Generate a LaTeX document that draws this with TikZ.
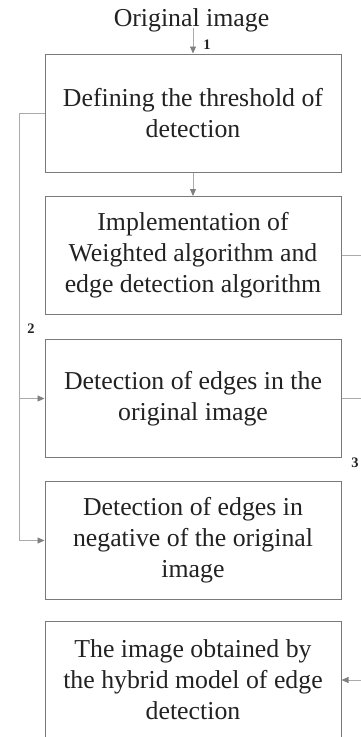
\documentclass[tikz,border=0pt]{standalone}
\usepackage{fontspec}
\setmainfont{Liberation Serif}
\usetikzlibrary{arrows.meta}
\definecolor{boxgray}{HTML}{7A7A7A}
\definecolor{linegray}{HTML}{ABABAB}
\definecolor{tipgray}{HTML}{808080}
\definecolor{textcol}{HTML}{222222}
\tikzset{
  stepbox/.style={draw=boxgray, line width=1pt, rectangle, minimum width=296pt, minimum height=118pt,
    align=center, inner sep=0pt, font=\fontsize{25.8}{31}\selectfont, text=textcol},
  conn/.style={draw=linegray, line width=0.9pt},
  arr/.style={conn, -{Triangle[length=7pt,width=6pt,color=tipgray]}},
  numlabel/.style={font=\fontsize{14.5}{14.5}\selectfont\bfseries, text=textcol, inner sep=0pt}
}
\begin{document}
\begin{tikzpicture}[x=1pt,y=-1pt]
\useasboundingbox (0,0) rectangle (361,737);
\node[anchor=base, inner sep=0pt, font=\fontsize{25.8}{31}\selectfont, text=textcol] (orig) at (191.5,26) {Original image};
\coordinate (o1) at (193,28);
\node[stepbox] (b1) at (193,113) {Defining the threshold of\\detection};
\node[stepbox] (b2) at (193,255.5) {Implementation of\\Weighted algorithm and\\edge detection algorithm};
\node[stepbox] (b3) at (193,398.5) {Detection of edges in the\\original image};
\node[stepbox] (b4) at (193,540.5) {Detection of edges in\\negative of the original\\image};
\node[stepbox] (b5) at (193,680) {The image obtained by\\the hybrid model of edge\\detection};
\draw[arr] (o1) -- (b1.north);
\draw[arr] (b1.south) -- (b2.north);
\coordinate (L1) at (19,113);
\coordinate (L3) at (19,398.5);
\coordinate (L4) at (19,540.5);
\draw[conn] (b1.west) -- (L1) -- (L4);
\draw[arr] (L3) -- (b3.west);
\draw[arr] (L4) -- (b4.west);
\coordinate (R2) at (361,255.5);
\coordinate (R3) at (361,398.5);
\coordinate (R5) at (361,680);
\draw[conn] (b2.east) -- (R2);
\draw[conn] (b3.east) -- (R3);
\draw[arr] (R5) -- (b5.east);
\node[numlabel] (n1) at (207,45) {1};
\node[numlabel] (n2) at (31,329) {2};
\node[numlabel] (n3) at (355,463) {3};
\end{tikzpicture}
\end{document}
